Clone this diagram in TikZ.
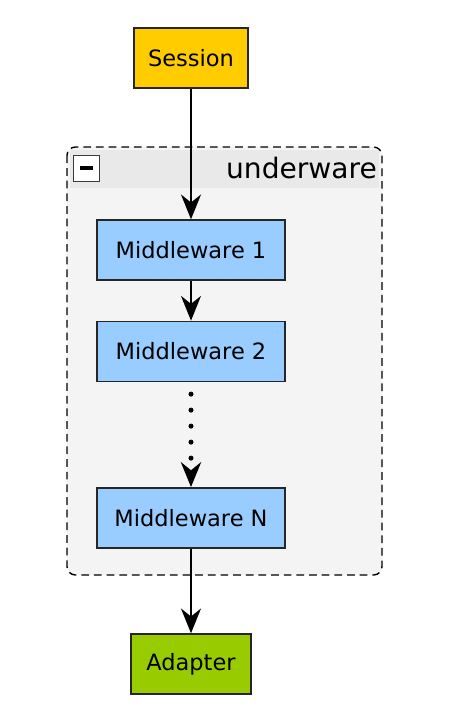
\documentclass[tikz,border=0pt]{standalone}
\usepackage{fontspec}
\setmainfont{DejaVu Sans}
\usepackage{xcolor}
\usepackage{tikz}
\usetikzlibrary{positioning,arrows.meta,calc,backgrounds}
\definecolor{sessionfill}{HTML}{FFCC00}
\definecolor{mwfill}{HTML}{99CCFF}
\definecolor{adapterfill}{HTML}{99CC00}
\definecolor{groupbody}{HTML}{F4F4F4}
\definecolor{grouphead}{HTML}{E9E9E9}
\definecolor{boxgray}{HTML}{3A3A3A}
\tikzset{
    compbox/.style={
        draw=black!85, line width=1pt,
        minimum height=1.5cm, inner sep=0pt,
        font=\fontsize{16}{19}\selectfont, align=center
    },
    sessionbox/.style={compbox, fill=sessionfill, minimum width=2.85cm},
    mwbox/.style={compbox, fill=mwfill, minimum width=4.7cm},
    adapterbox/.style={compbox, fill=adapterfill, minimum width=3cm},
    groupframe/.style={draw=black, dash pattern=on 5.5pt off 3.5pt, line width=1pt, rounded corners=6pt},
    arrow/.style={-{Stealth[length=0.62cm, width=0.5cm, inset=0.2cm]}, line width=1.4pt},
    dotarrow/.style={arrow, line width=3.6pt, line cap=round, dash pattern=on 0pt off 0.4cm},
}

\begin{document}
\begin{tikzpicture}
    \useasboundingbox (0,0) rectangle (11.25,-18.2);
    % group frame
    \fill[groupbody, rounded corners=6pt] (1.675,-3.675) rectangle (9.55,-14.375);
    \fill[grouphead] (1.75,-3.75) rectangle (9.475,-4.7);
    \draw[groupframe] (1.675,-3.675) rectangle (9.55,-14.375);
    \node[draw=boxgray, fill=white, line width=0.9pt, minimum size=0.65cm, inner sep=0pt] (toggle) at (2.16,-4.21) {};
    \fill[black] ($(toggle.center)+(-0.16,-0.05)$) rectangle ($(toggle.center)+(0.16,0.05)$);
    \node[anchor=east, inner sep=0pt, font=\fontsize{20}{24}\selectfont] (grouplabel) at (9.43,-4.2) {underware};
    % components
    \node[sessionbox] (session) at (4.775,-1.45) {Session};
    \node[mwbox] (mw1) at (4.775,-6.25) {Middleware 1};
    \node[mwbox, below=1cm of mw1] (mw2) {Middleware 2};
    \node[mwbox, below=2.625cm of mw2] (mwn) {Middleware N};
    \node[adapterbox] (adapter) at (4.775,-16.6) {Adapter};
    % connectors
    \draw[arrow] (session) -- (mw1);
    \draw[arrow] (mw1) -- (mw2);
    \draw[dotarrow] ($(mw2.south)+(0,-0.3)$) -- (mwn.north);
    \draw[arrow] (mwn) -- (adapter);
\end{tikzpicture}
\end{document}
